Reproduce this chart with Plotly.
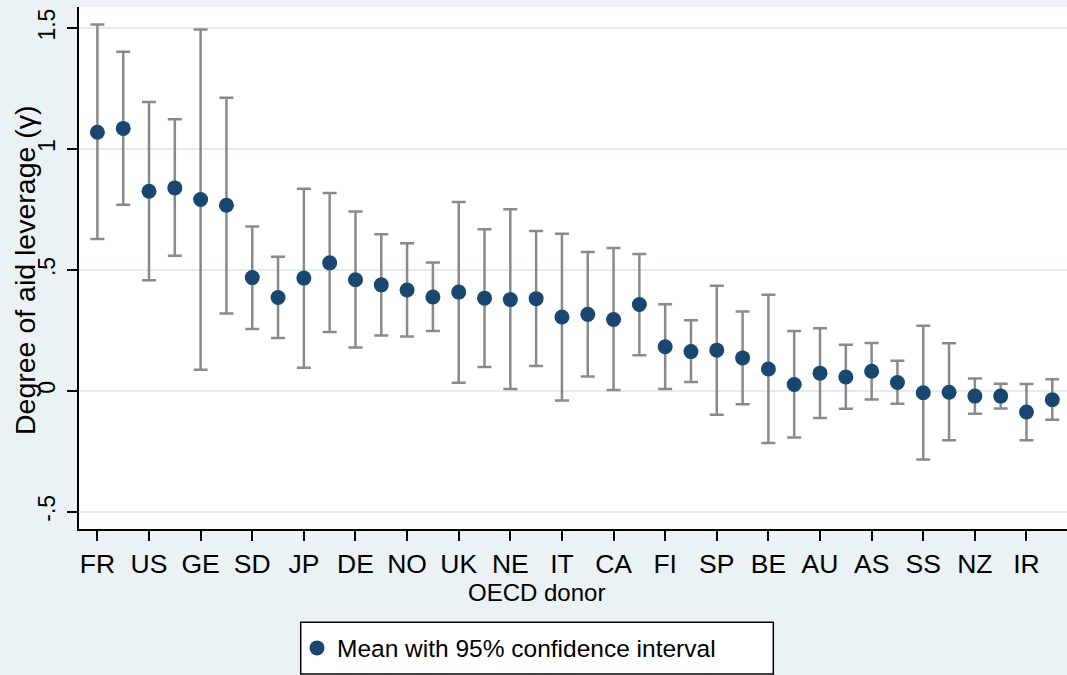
import plotly.graph_objects as go

# ---- data ----
positions = list(range(1, 39))
tick_positions = list(range(1, 39, 2))
tick_labels = ["FR", "US", "GE", "SD", "JP", "DE", "NO", "UK", "NE", "IT",
               "CA", "FI", "SP", "BE", "AU", "AS", "SS", "NZ", "IR"]
means = [1.069, 1.085, 0.825, 0.839, 0.791, 0.767, 0.468, 0.386, 0.466, 0.529,
         0.459, 0.438, 0.417, 0.388, 0.408, 0.383, 0.377, 0.381, 0.305, 0.316,
         0.295, 0.357, 0.182, 0.162, 0.168, 0.136, 0.090, 0.026, 0.073, 0.057,
         0.081, 0.034, -0.008, -0.006, -0.022, -0.022, -0.088, -0.037]
upper = [1.515, 1.402, 1.194, 1.123, 1.494, 1.212, 0.679, 0.554, 0.835, 0.818,
         0.741, 0.647, 0.610, 0.530, 0.781, 0.668, 0.751, 0.661, 0.649, 0.574,
         0.590, 0.566, 0.358, 0.292, 0.434, 0.328, 0.397, 0.247, 0.259, 0.190,
         0.198, 0.124, 0.269, 0.197, 0.051, 0.029, 0.028, 0.048]
lower = [0.628, 0.769, 0.457, 0.558, 0.087, 0.320, 0.255, 0.218, 0.095, 0.243,
         0.179, 0.229, 0.224, 0.247, 0.033, 0.098, 0.007, 0.102, -0.040, 0.059,
         0.003, 0.147, 0.007, 0.036, -0.099, -0.056, -0.216, -0.193, -0.113, -0.074,
         -0.036, -0.054, -0.284, -0.204, -0.095, -0.073, -0.204, -0.120]
y_tick_vals = [-0.5, 0, 0.5, 1, 1.5]
y_tick_text = ["-.5", "0", ".5", "1", "1.5"]

err_plus = [u - m for u, m in zip(upper, means)]
err_minus = [m - l for m, l in zip(means, lower)]

FONT = "Liberation Sans, Arial, sans-serif"
BG = "#EAF2F3"
NAVY = "#1A476F"

fig = go.Figure()
fig.add_trace(go.Scatter(
    x=positions, y=means, mode="markers",
    name="Mean with 95% confidence interval",
    marker=dict(color=NAVY, size=15),
    error_y=dict(type="data", symmetric=False, array=err_plus, arrayminus=err_minus,
                 color="#8A8A8A", thickness=2.5, width=7),
))

W, H = 1067, 675
L, R, T, B = 79, 0, 7, 146
pw = W - L - R
ph = H - T - B

def px_x(xp):
    return (xp - L) / pw

def px_y(yp):
    return (H - B - yp) / ph

fig.update_layout(
    width=W, height=H,
    margin=dict(l=L, r=R, t=T, b=B, autoexpand=False),
    paper_bgcolor=BG, plot_bgcolor="white",
    font=dict(family=FONT, color="black"),
    showlegend=True,
    legend=dict(x=px_x(297), y=px_y(648), xanchor="left", yanchor="middle",
                bgcolor="rgba(0,0,0,0)", borderwidth=0,
                font=dict(size=24.5, family=FONT, color="black")),
    xaxis=dict(range=[0.287, 38.57], tickvals=tick_positions, ticktext=tick_labels,
               ticks="outside", ticklen=10, tickwidth=1.5, tickcolor="black",
               showline=True, linecolor="black", linewidth=1.5,
               showgrid=False, zeroline=False, automargin=False,
               tickfont=dict(size=26.5, family=FONT, color="black")),
    yaxis=dict(range=[-0.5715, 1.587], tickvals=y_tick_vals, ticktext=y_tick_text,
               tickangle=-90, ticks="outside", ticklen=10, tickwidth=1.5, tickcolor="black",
               showline=True, linecolor="black", linewidth=1.5, automargin=False,
               ticklabelstandoff=3,
               showgrid=True, gridcolor="#E4ECEF", gridwidth=2, zeroline=False,
               tickfont=dict(size=23, family=FONT, color="black")),
    shapes=[dict(type="rect", xref="paper", yref="paper",
                 x0=px_x(300.7), x1=px_x(773.3), y0=px_y(674), y1=px_y(622.3),
                 line=dict(color="black", width=1.5), fillcolor="white", layer="below")],
    annotations=[
        dict(text="OECD donor", xref="paper", yref="paper",
             x=px_x(536), y=px_y(592.7), xanchor="center", yanchor="middle",
             showarrow=False, font=dict(size=24, family=FONT, color="black")),
        dict(text="Degree of aid leverage (γ)", xref="paper", yref="paper",
             x=px_x(25), y=px_y(270), xanchor="center", yanchor="middle", textangle=-90,
             showarrow=False, font=dict(size=28.5, family=FONT, color="black")),
    ],
)

fig.write_html("out.html", config={"displayModeBar": False},
               post_script="document.body.style.margin='0';document.body.style.overflow='hidden';")
